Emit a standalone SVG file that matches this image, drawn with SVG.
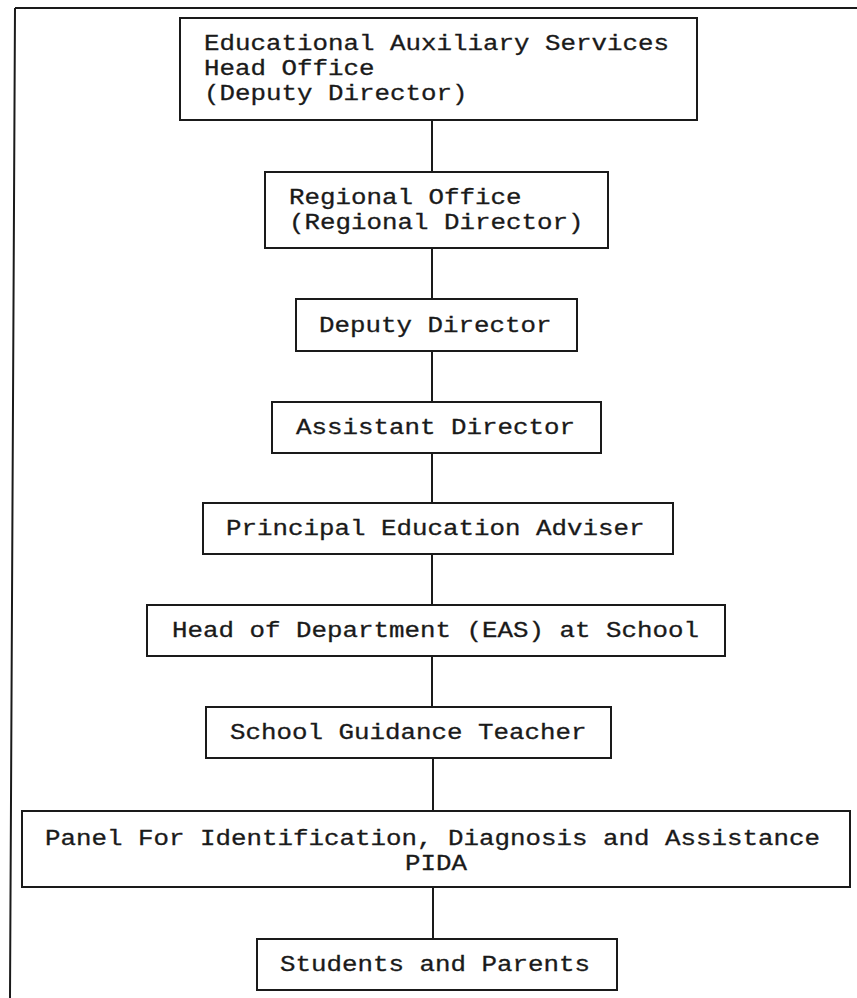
<svg xmlns="http://www.w3.org/2000/svg" width="857" height="998" viewBox="0 0 857 998">
<style>
.box{fill:#fff;stroke:#1a1a1a;stroke-width:2}
.t{font-family:"Liberation Mono","Courier New",monospace;font-size:22px;fill:#1a1a1a;stroke:#1a1a1a;stroke-width:0.3}
.c{stroke:#1a1a1a;stroke-width:2;fill:none}
</style>
<rect width="857" height="998" fill="#fff"/>
<g id="frame">
<path class="c" d="M15,8 L857,8 M15,8 L10,998"/>
</g>
<g id="connectors">
<path class="c" d="M432,120 V172 M432,248 V299 M432,351 V402 M432,453 V503 M432,554 V605 M432,656 V707 M433,758 V811 M433,887 V939"/>
</g>
<g id="n1">
<rect class="box" x="180" y="18" width="517" height="102"/>
<text class="t" x="204" y="50" textLength="465" lengthAdjust="spacingAndGlyphs">Educational Auxiliary Services</text>
<text class="t" x="204" y="75" textLength="170.5" lengthAdjust="spacingAndGlyphs">Head Office</text>
<text class="t" x="204" y="100" textLength="263.5" lengthAdjust="spacingAndGlyphs">(Deputy Director)</text>
</g>
<g id="n2">
<rect class="box" x="265" y="172" width="343" height="76"/>
<text class="t" x="289" y="204" textLength="232.5" lengthAdjust="spacingAndGlyphs">Regional Office</text>
<text class="t" x="289" y="229" textLength="294.5" lengthAdjust="spacingAndGlyphs">(Regional Director)</text>
</g>
<g id="n3">
<rect class="box" x="296" y="299" width="281" height="52"/>
<text class="t" x="319" y="332" textLength="232.5" lengthAdjust="spacingAndGlyphs">Deputy Director</text>
</g>
<g id="n4">
<rect class="box" x="272" y="402" width="329" height="51"/>
<text class="t" x="296" y="434" textLength="279" lengthAdjust="spacingAndGlyphs">Assistant Director</text>
</g>
<g id="n5">
<rect class="box" x="203" y="503" width="470" height="51"/>
<text class="t" x="226" y="535" textLength="418.5" lengthAdjust="spacingAndGlyphs">Principal Education Adviser</text>
</g>
<g id="n6">
<rect class="box" x="147" y="605" width="578" height="51"/>
<text class="t" x="172" y="637" textLength="527" lengthAdjust="spacingAndGlyphs">Head of Department (EAS) at School</text>
</g>
<g id="n7">
<rect class="box" x="206" y="707" width="405" height="51"/>
<text class="t" x="230" y="739" textLength="356.5" lengthAdjust="spacingAndGlyphs">School Guidance Teacher</text>
</g>
<g id="n8">
<rect class="box" x="22" y="811" width="828" height="76"/>
<text class="t" x="45" y="845" textLength="775" lengthAdjust="spacingAndGlyphs">Panel For Identification, Diagnosis and Assistance</text>
<text class="t" x="405" y="870" textLength="62" lengthAdjust="spacingAndGlyphs">PIDA</text>
</g>
<g id="n9">
<rect class="box" x="257" y="939" width="360" height="51"/>
<text class="t" x="280" y="971" textLength="310" lengthAdjust="spacingAndGlyphs">Students and Parents</text>
</g>
</svg>
